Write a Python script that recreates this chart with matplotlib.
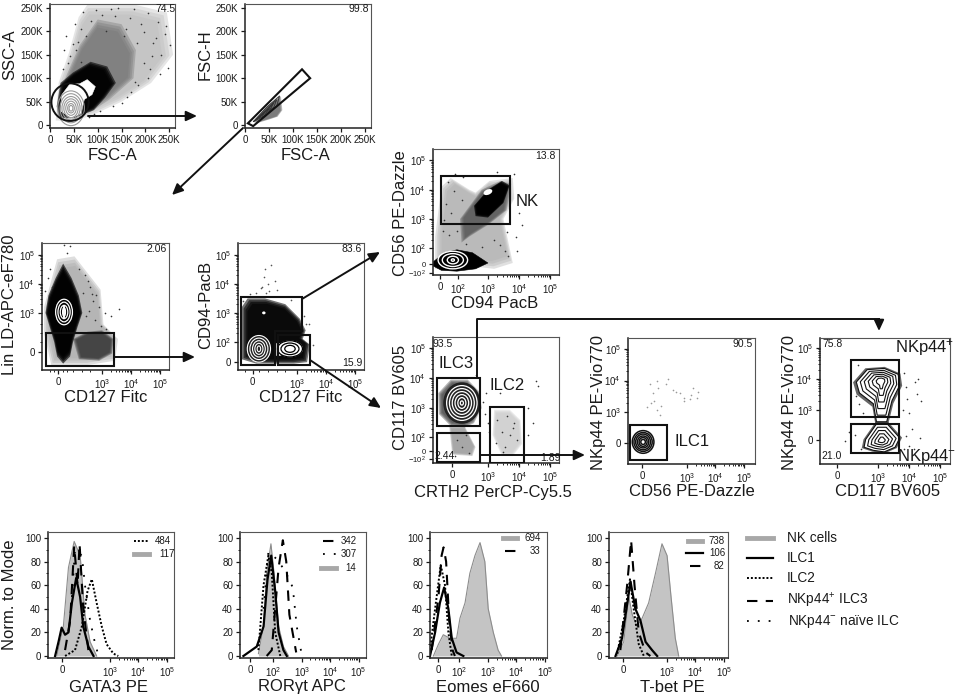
import numpy as np
import matplotlib
matplotlib.use('Agg')
import matplotlib.pyplot as plt
from matplotlib.patches import Polygon, Ellipse, Rectangle

plt.rcParams['font.family'] = ['Liberation Sans', 'DejaVu Sans']
plt.rcParams['mathtext.fontset'] = 'custom'
plt.rcParams['mathtext.rm'] = 'Liberation Sans'
plt.rcParams['mathtext.default'] = 'regular'

W, H = 955, 699
DARK = '#1a1a1a'

# --- scatter clouds, (x, y) outlines in axis units; K for the first row, decades below
fsc_sparse_x = [12, 18, 40, 60, 78, 180, 245, 258, 212, 150, 90, 50, 12]
fsc_sparse_y = [10, 90, 155, 230, 256, 256, 240, 150, 90, 50, 22, 8, 10]
fsc_mid_x = [20, 32, 62, 100, 150, 180, 175, 125, 85, 30]
fsc_mid_y = [40, 100, 170, 225, 215, 160, 100, 55, 28, 20]
fsc_dense_x = [14, 22, 48, 85, 120, 138, 115, 92, 50, 20]
fsc_dense_y = [40, 90, 112, 135, 125, 90, 58, 32, 15, 15]
fsc_white_x = [22, 25, 42, 62, 78, 95, 88, 72, 65, 45]
fsc_white_y = [30, 65, 88, 88, 97, 82, 65, 55, 25, 15]
fsc_gate = (42, 49, 78, 80)
fsc_rings = [(44, 36, w, h) for w, h in [(56, 74), (46, 62), (38, 50), (30, 40), (22, 30), (14, 20), (8, 12)]]
fsc_points_x = [30, 34, 52, 58, 70, 86, 96, 110, 118, 142, 155, 168, 176, 190, 205, 215, 226, 232, 240, 248, 252, 230, 205, 185, 170, 210,
                42, 48, 38, 66, 76, 128, 136, 160, 182, 198, 222, 244, 214, 196, 178, 162, 150, 132, 104, 92, 82, 64, 55, 28]
fsc_points_y = [160, 190, 215, 178, 240, 222, 245, 235, 200, 250, 190, 228, 248, 215, 238, 175, 220, 150, 195, 122, 170, 110, 100, 85, 70, 120,
                148, 172, 132, 205, 190, 248, 232, 205, 176, 198, 186, 212, 148, 132, 92, 60, 48, 40, 30, 24, 18, 135, 160, 120]

singlet_gate_x = [6, 119, 136, 17]
singlet_gate_y = [4, 119, 100, -2]
singlet_cloud_x = [16, 30, 55, 75, 78, 68, 50, 24]
singlet_cloud_y = [8, 22, 48, 62, 32, 18, 12, 4]
singlet_line_x = [[18, 45, 72, 66, 40, 18], [24, 48, 66, 60, 38, 24], [30, 50, 60, 54, 36, 30]]
singlet_line_y = [[8, 38, 62, 40, 20, 8], [13, 37, 54, 38, 22, 13], [18, 36, 47, 36, 24, 18]]

lin_sparse_x = [1.0, 1.45, 2.05, 2.95, 3.05, 3.55, 3.45, 2.5, 1.25, 1.0]
lin_sparse_y = [3.2, 4.85, 4.95, 3.8, 2.6, 2.1, 1.35, 1.2, 1.2, 2.3]
lin_dense_x = [1.66, 1.95, 2.2, 2.32, 2.15, 2.0, 1.9, 1.66, 1.45, 1.35, 1.2, 1.05, 1.15, 1.4]
lin_dense_y = [4.7, 4.2, 3.6, 3.0, 2.5, 2.0, 1.5, 1.25, 1.5, 2.0, 2.5, 3.0, 3.6, 4.2]
lin_blob_x = [2.0, 2.5, 3.0, 3.4, 3.35, 2.9, 2.2]
lin_blob_y = [2.1, 2.35, 2.4, 2.1, 1.6, 1.35, 1.4]
lin_gate = (1.07, 1.17, 2.34, 1.14)
lin_rings = [(1.69, 3.03, w, h) for w, h in [(0.58, 0.88), (0.42, 0.68), (0.26, 0.46), (0.1, 0.3)]]
lin_points_x = [1.7, 1.9, 2.4, 2.6, 2.8, 2.9, 3.1, 3.6, 3.3, 2.5, 2.7, 2.2, 1.8, 2.35, 2.55, 2.75, 2.95, 3.15, 2.45, 2.65, 1.12, 1.2, 1.28, 1.02]
lin_points_y = [5.35, 5.3, 4.3, 3.9, 3.6, 3.2, 3.0, 3.15, 2.9, 4.1, 3.4, 4.5, 5.05, 3.7, 3.05, 2.75, 2.55, 2.45, 2.9, 3.65, 4.2, 4.5, 3.9, 3.75]

cd94_dense_x = [1.1, 1.3, 1.9, 2.6, 3.1, 3.3, 3.2, 3.45, 3.35, 2.9, 2.3, 1.6, 1.1]
cd94_dense_y = [3.2, 3.5, 3.5, 3.3, 2.8, 2.4, 2.1, 1.9, 1.3, 1.25, 1.25, 1.25, 1.4]
cd94_hole_x = [2.28, 2.42, 2.42, 2.28]
cd94_hole_y = [1.55, 1.55, 1.95, 1.95]
cd94_left_rings = [(1.69, 1.76, w, h) for w, h in [(0.8, 0.92), (0.62, 0.74), (0.44, 0.56), (0.28, 0.38), (0.12, 0.2)]]
cd94_right_rings = [(2.76, 1.76, w, h) for w, h in [(0.86, 0.56), (0.62, 0.4), (0.36, 0.24)]]
cd94_gate_up_x = [1.07, 3.17, 3.17, 2.24, 2.24, 1.07]
cd94_gate_up_y = [3.55, 3.55, 2.38, 2.38, 1.21, 1.21]
cd94_gate_low_x = [2.34, 3.45, 3.45, 2.34]
cd94_gate_low_y = [2.24, 2.24, 1.21, 1.21]
cd94_points_x = [1.9, 2.1, 1.8, 1.95, 2.0, 1.85, 1.75, 2.05, 2.25, 1.6, 3.4, 3.55, 2.3, 1.15, 1.4, 2.8, 3.25, 3.3]
cd94_points_y = [4.5, 4.65, 3.9, 3.7, 4.0, 4.25, 3.85, 3.75, 4.1, 3.7, 2.6, 1.9, 3.8, 3.4, 3.65, 3.45, 2.9, 2.6]

cd56_sparse_x = [1.5, 1.8, 2.4, 2.6, 3.05, 3.8, 3.85, 3.5, 3.8, 3.2, 2.8, 1.3, 1.3]
cd56_sparse_y = [4.1, 4.4, 4.0, 3.9, 4.3, 4.4, 3.7, 3.0, 1.5, 1.3, 1.35, 1.3, 2.4]
cd56_mid_x = [2.1, 2.8, 3.4, 3.75, 3.6, 3.0, 2.4, 2.15]
cd56_mid_y = [3.0, 4.0, 4.3, 4.2, 3.3, 2.8, 2.4, 2.2]
cd56_dense_x = [2.55, 3.0, 3.45, 3.7, 3.5, 3.0, 2.6]
cd56_dense_y = [3.45, 4.0, 4.3, 4.15, 3.55, 3.05, 3.1]
cd56_low_x = [1.25, 1.6, 2.0, 2.5, 3.0, 2.6, 2.0, 1.5, 1.23]
cd56_low_y = [1.55, 1.85, 1.95, 1.85, 1.5, 1.3, 1.22, 1.25, 1.4]
cd56_spot = (3.0, 3.92, 0.3, 0.18)
cd56_rings = [(1.87, 1.6, w, h) for w, h in [(0.95, 0.6), (0.68, 0.44), (0.36, 0.26), (0.1, 0.08)]]
cd56_gate = (1.48, 2.83, 2.23, 1.64)
cd56_points_x = [1.65, 1.8, 2.0, 4.0, 4.1, 3.95, 1.95, 3.3, 2.2, 3.9, 1.55, 3.85, 1.7, 1.9, 2.15, 1.6, 1.75, 3.6, 3.4, 3.2, 2.8, 3.65, 3.55, 2.3]
cd56_points_y = [3.5, 3.2, 2.6, 3.2, 2.8, 1.9, 4.55, 4.6, 4.45, 2.4, 2.6, 4.55, 4.25, 3.95, 3.65, 2.95, 2.45, 2.55, 2.1, 2.3, 2.05, 1.75, 1.9, 2.15]

ilc3_mid_x = [1.4, 1.8, 2.35, 2.72, 2.8, 2.55, 2.25, 1.8, 1.42]
ilc3_mid_y = [3.5, 3.95, 3.95, 3.55, 3.0, 2.5, 2.35, 2.4, 2.8]
ilc3_low_x = [1.75, 2.25, 2.6, 2.5, 1.85]
ilc3_low_y = [2.4, 2.4, 1.7, 1.4, 1.45]
ilc2_cloud_x = [3.2, 3.7, 4.05, 4.1, 3.8, 3.45, 3.15]
ilc2_cloud_y = [2.95, 2.95, 2.6, 1.8, 1.4, 1.4, 2.1]
ilc3_rings = [(2.16, 3.17, w, h) for w, h in [(0.98, 1.16), (0.8, 0.96), (0.62, 0.76), (0.44, 0.56), (0.26, 0.36), (0.1, 0.14)]]
ilc_gate3 = (1.35, 2.4, 1.39, 1.6)
ilc_gate_low = (1.35, 1.2, 1.39, 0.97)
ilc_gate2 = (3.06, 1.17, 1.1, 1.86)
ilc_points_x = [3.4, 4.3, 4.55, 4.6, 2.85, 2.9, 3.0, 4.3, 4.45, 2.6, 3.5, 3.3, 3.6, 3.85, 3.45, 3.7, 3.95, 3.25, 3.55, 3.8, 2.0, 2.15, 2.3, 1.95, 2.4, 2.95, 3.05]
ilc_points_y = [3.5, 2.1, 3.9, 3.75, 3.2, 2.8, 2.5, 3.0, 2.5, 4.1, 1.55, 2.6, 2.75, 2.5, 2.2, 2.1, 1.95, 1.85, 1.7, 2.35, 1.95, 1.7, 2.1, 1.4, 1.5, 3.5, 2.2]

nk_ilc1_rings = [(1.46, 2.05, w, h) for w, h in [(0.76, 0.72), (0.64, 0.6), (0.52, 0.5), (0.4, 0.38), (0.28, 0.28), (0.16, 0.16)]]
nk_ilc1_gate = (1.0, 1.48, 1.3, 1.11)
nk_ilc1_points_x = [1.75, 1.8, 2.0, 2.25, 1.7, 2.35, 2.75, 3.2, 2.9, 3.15, 3.35, 3.4, 1.95, 1.6, 1.85, 2.05, 2.1, 2.9, 1.95, 2.5, 2.6, 3.1]
nk_ilc1_points_y = [3.3, 3.6, 3.75, 3.9, 3.9, 4.05, 3.6, 3.75, 3.45, 3.55, 3.45, 3.65, 3.05, 3.15, 3.35, 2.9, 3.2, 3.35, 4.0, 3.7, 3.65, 3.4]

nkp_up_x = [2.3, 2.65, 3.2, 3.65, 3.7, 3.45, 3.28, 2.95, 2.85, 2.4]
nkp_up_y = [3.9, 4.3, 4.34, 4.15, 3.8, 3.3, 2.62, 2.62, 3.2, 3.55]
nkp_low_x = [2.6, 2.95, 3.3, 3.7, 3.55, 3.2, 2.85, 2.55]
nkp_low_y = [2.05, 2.55, 2.55, 2.1, 1.8, 1.65, 1.7, 1.8]
nkp_up_levels = [1.0, 0.84, 0.68, 0.52, 0.36, 0.2]
nkp_low_levels = [1.0, 0.8, 0.6, 0.4, 0.2]
nkp_center = (3.1, 3.95)
nkp_low_center = (3.12, 2.02)
nkp_gate_up = (2.13, 2.77, 1.55, 1.84)
nkp_gate_low = (2.13, 1.61, 1.55, 0.94)
nkp_points_x = [2.05, 4.2, 4.25, 4.3, 4.1, 4.4, 2.35, 4.35, 4.15, 1.95, 3.85, 3.9, 3.95, 4.0, 3.8, 2.3, 2.4, 2.5, 2.25, 3.9, 4.0, 2.45, 3.85]
nkp_points_y = [2.3, 3.9, 3.5, 4.0, 2.4, 3.3, 4.45, 2.1, 1.75, 2.0, 4.2, 3.75, 3.35, 2.9, 3.0, 3.45, 3.2, 2.9, 2.2, 2.15, 1.85, 1.75, 1.75]

# --- histograms: x in decades, y in % of mode
gata_nk_x = [1.13, 1.36, 1.54, 1.74, 1.95, 2.12, 2.3, 2.53]
gata_nk_y = [0, 25, 75, 97, 85, 35, 12, 0]
gata_ilc1_x = [1.07, 1.19, 1.3, 1.42, 1.54, 1.66, 1.81, 1.95, 2.06, 2.24, 2.42]
gata_ilc1_y = [0, 12, 24, 18, 20, 45, 66, 50, 25, 8, 0]
gata_ilc2_x = [1.42, 1.77, 2.01, 2.21, 2.36, 2.53, 2.71, 2.88, 3.12, 3.29]
gata_ilc2_y = [0, 5, 25, 55, 65, 45, 25, 10, 2, 0]
gata_ilc3_x = [1.42, 1.6, 1.74, 1.86, 1.93, 2.06, 2.24]
gata_ilc3_y = [5, 30, 93, 60, 95, 40, 5]
gata_naive_x = [1.66, 1.77, 2.01, 2.12, 2.3, 2.48, 2.6]
gata_naive_y = [50, 90, 85, 60, 30, 10, 0]

ror_nk_x = [1.47, 1.65, 1.76, 1.91, 2.02, 2.18, 2.35, 2.53]
ror_nk_y = [2, 25, 70, 95, 70, 25, 8, 0]
ror_ilc1_x = [0.94, 1.41, 1.65, 1.79, 1.92, 2.06, 2.18, 2.35, 2.47]
ror_ilc1_y = [0, 8, 25, 65, 85, 55, 20, 5, 0]
ror_ilc2_x = [1.47, 1.65, 1.82, 1.94, 2.06, 2.24]
ror_ilc2_y = [5, 60, 85, 70, 20, 0]
ror_ilc3_x = [1.76, 1.94, 2.06, 2.18, 2.33, 2.45, 2.56, 2.71, 2.8]
ror_ilc3_y = [0, 5, 40, 75, 98, 80, 35, 15, 3]
ror_naive_x = [1.65, 1.82, 2.12, 2.41, 2.68, 2.82, 2.98]
ror_naive_y = [40, 88, 82, 72, 58, 25, 3]

eo_nk_x = [1.06, 1.24, 1.41, 1.65, 1.88, 2.0, 2.18, 2.35, 2.53, 2.71, 2.88, 3.0, 3.18, 3.35, 3.47]
eo_nk_y = [0, 10, 18, 15, 15, 32, 45, 70, 85, 96, 80, 40, 20, 5, 0]
eo_ilc1_x = [0.94, 1.12, 1.29, 1.44, 1.59, 1.71, 1.88, 2.12]
eo_ilc1_y = [0, 20, 45, 58, 40, 15, 3, 0]
eo_ilc3_x = [1.0, 1.24, 1.35, 1.42, 1.51, 1.62, 1.74, 1.82]
eo_ilc3_y = [5, 50, 85, 92, 80, 30, 5, 0]
eo_ilc2_x = [0.94, 1.12, 1.32, 1.47, 1.59, 1.71]
eo_ilc2_y = [5, 40, 77, 60, 20, 0]

tb_nk_x = [1.24, 1.47, 1.65, 1.77, 1.94, 2.12, 2.35, 2.59, 2.82, 3.0, 3.14, 3.29, 3.41]
tb_nk_y = [0, 12, 50, 35, 25, 32, 45, 70, 95, 85, 50, 15, 0]
tb_ilc1_x = [1.18, 1.41, 1.71, 1.88, 2.06, 2.24, 2.47, 2.65]
tb_ilc1_y = [0, 15, 63, 40, 30, 12, 5, 0]
tb_ilc3_x = [1.35, 1.59, 1.73, 1.85, 2.0, 2.24, 2.41]
tb_ilc3_y = [5, 60, 98, 60, 20, 3, 0]
tb_ilc2_x = [1.24, 1.47, 1.69, 1.82, 2.0, 2.18]
tb_ilc2_y = [2, 30, 65, 40, 10, 0]

legend_names = ['NK cells', 'ILC1', 'ILC2', 'NKp44$^{+}$ ILC3', 'NKp44$^{-}$ naïve ILC']

LINEAR_TICKS = [0, 50, 100, 150, 200, 250]
LINEAR_LABELS = ['0', '50K', '100K', '150K', '200K', '250K']
PCT_TICKS = [0, 20, 40, 60, 80, 100]

fig = plt.figure(figsize=(W / 100, H / 100), dpi=100)
fig.patch.set_facecolor('white')

# overlay in picture units for labels and arrows
over = fig.add_axes([0, 0, 1, 1], zorder=10)
over.set_xlim(0, W)
over.set_ylim(H, 0)
over.axis('off')


def logminor(decades):
    out = []
    for d in decades:
        out.extend(d + np.log10(np.arange(2, 10)))
    return out


def panel(box, xlim, ylim, xticks, xlabels, yticks, ylabels, xminor=(), yminor=()):
    l, r, t, b = box
    ax = fig.add_axes([l / W, 1 - b / H, (r - l) / W, (b - t) / H])
    ax.set_xlim(*xlim)
    ax.set_ylim(*ylim)
    ax.set_xticks(xticks, xlabels)
    ax.set_yticks(yticks, ylabels)
    ax.set_xticks(xminor, minor=True)
    ax.set_yticks(yminor, minor=True)
    ax.tick_params(length=3, width=0.9, labelsize=7, pad=2, colors=DARK)
    ax.tick_params(which='minor', length=1.5, width=0.6)
    for side, sp in ax.spines.items():
        sp.set_linewidth(1.1 if side in ('left', 'bottom') else 0.8)
        sp.set_color('#222222' if side in ('left', 'bottom') else '#555555')
    return ax


def cloud(ax, xs, ys, shade, alpha=0.38):
    # grey density patch with a feathered edge
    pts = np.column_stack([xs, ys])
    mid = pts.mean(axis=0)
    for k in (1.0, 0.95, 0.9, 0.85):
        ax.add_patch(Polygon(mid + k * (pts - mid), closed=True, facecolor=shade, edgecolor='none', alpha=alpha))


def solid(ax, xs, ys, color='black'):
    ax.add_patch(Polygon(np.column_stack([xs, ys]), closed=True, facecolor=color, edgecolor=color, lw=0.4))


def rings(ax, items, color='black', lw=0.8, fill=None):
    for i, (cx, cy, w, h) in enumerate(items):
        ax.add_patch(Ellipse((cx, cy), w, h, facecolor=fill if (fill and i == 0) else 'none',
                             edgecolor=color, lw=lw))


def gate_rect(ax, rect):
    x, y, w, h = rect
    ax.add_patch(Rectangle((x, y), w, h, fill=False, edgecolor='#111111', lw=1.5, zorder=6))


def gate_poly(ax, xs, ys):
    ax.add_patch(Polygon(np.column_stack([xs, ys]), closed=True, fill=False, edgecolor='#111111', lw=1.5, zorder=6))


def strays(ax, xs, ys, color='#333333'):
    ax.scatter(xs, ys, s=1.4, color=color, linewidths=0)


def lab(x, y, s, rot=0, size=12):
    over.text(x, y, s, rotation=rot, fontsize=size, ha='center', va='center', color=DARK)


def arrow(x0, y0, x1, y1):
    over.annotate('', xy=(x1, y1), xytext=(x0, y0),
                  arrowprops=dict(arrowstyle='-|>,head_width=0.3,head_length=0.65', color='#111111',
                                  lw=1.4, shrinkA=0, shrinkB=0))


def power(n):
    return '$10^{%d}$' % n


def small_low_labels(ax, count=2):
    for t in ax.get_yticklabels()[:count]:
        t.set_fontsize(5.5)


# ---- FSC / SSC
ax = panel((50, 175, 4, 128), (0, 262), (-6, 258), LINEAR_TICKS, LINEAR_LABELS, LINEAR_TICKS, LINEAR_LABELS)
cloud(ax, fsc_sparse_x, fsc_sparse_y, '#bdbdbd')
cloud(ax, fsc_mid_x, fsc_mid_y, '#777777')
cloud(ax, fsc_dense_x, fsc_dense_y, 'black', alpha=0.6)
solid(ax, fsc_white_x, fsc_white_y, 'white')
rings(ax, fsc_rings, color='#999999', lw=0.8)
ax.add_patch(Ellipse(fsc_gate[:2], fsc_gate[2], fsc_gate[3], fill=False, edgecolor='#111111', lw=1.4, zorder=6))
strays(ax, fsc_points_x, fsc_points_y)

ax = panel((245, 371, 4, 128), (0, 263), (-6, 258), LINEAR_TICKS, LINEAR_LABELS, LINEAR_TICKS, LINEAR_LABELS)
cloud(ax, singlet_cloud_x, singlet_cloud_y, '#666666')
for xs, ys in zip(singlet_line_x, singlet_line_y):
    ax.plot(xs, ys, color='#333333', lw=0.7)
gate_poly(ax, singlet_gate_x, singlet_gate_y)

# ---- Lin / CD127
ax = panel((42, 169, 243, 370), (0.93, 5.31), (1.03, 5.41), [1.48, 3, 4, 5], ['0', power(3), power(4), power(5)],
           [1.66, 3, 4, 5], ['0', power(3), power(4), power(5)], logminor([3, 4]) + [1.2, 1.35, 1.65, 1.8, 2.0, 2.3, 2.6], logminor([3, 4]) + [2.0, 2.3, 2.6])
cloud(ax, lin_sparse_x, lin_sparse_y, '#aaaaaa')
cloud(ax, lin_blob_x, lin_blob_y, '#333333')
cloud(ax, lin_dense_x, lin_dense_y, 'black', alpha=0.65)
rings(ax, lin_rings, color='white', lw=0.9)
ax.plot([1.69, 1.69], [2.85, 3.2], color='white', lw=1.4)
strays(ax, lin_points_x, lin_points_y)
gate_rect(ax, lin_gate)

ax = panel((238, 364, 243, 370), (0.97, 5.31), (1.03, 5.41), [1.48, 3, 4, 5], ['0', power(3), power(4), power(5)],
           [1.31, 2, 3, 4, 5], ['0', power(2), power(3), power(4), power(5)], logminor([3, 4]) + [1.2, 1.7, 2.0, 2.3, 2.6], logminor([2, 3, 4]))
cloud(ax, cd94_dense_x, cd94_dense_y, 'black', alpha=0.55)
solid(ax, cd94_hole_x, cd94_hole_y, 'white')
ax.add_patch(Ellipse((1.69, 1.76), 0.84, 0.94, facecolor='#222222', edgecolor='none'))
rings(ax, cd94_left_rings, color='white', lw=0.8)
ax.add_patch(Ellipse((2.76, 1.76), 0.9, 0.58, facecolor='white', edgecolor='none'))
rings(ax, cd94_right_rings, color='black', lw=0.9)
ax.add_patch(Ellipse((1.86, 3.0), 0.12, 0.1, facecolor='white', edgecolor='none'))
strays(ax, cd94_points_x, cd94_points_y, '#555555')
gate_poly(ax, cd94_gate_up_x, cd94_gate_up_y)
gate_poly(ax, cd94_gate_low_x, cd94_gate_low_y)

# ---- CD56 / CD94
ax = panel((433, 559, 149, 275), (1.23, 5.29), (1.09, 5.39), [1.45, 2.03, 3, 4, 5], ['0', power(2), power(3), power(4), power(5)],
           [1.16, 1.46, 2, 3, 4, 5], ['$-10^{2}$', '0', power(2), power(3), power(4), power(5)], logminor([3, 4]), logminor([2, 3, 4]))
small_low_labels(ax)
cloud(ax, cd56_sparse_x, cd56_sparse_y, '#b0b0b0')
cloud(ax, cd56_mid_x, cd56_mid_y, '#555555')
cloud(ax, cd56_dense_x, cd56_dense_y, 'black', alpha=0.7)
solid(ax, cd56_low_x, cd56_low_y)
ax.add_patch(Ellipse(cd56_spot[:2], cd56_spot[2], cd56_spot[3], angle=25, facecolor='white', edgecolor='none'))
rings(ax, cd56_rings, color='white', lw=1.0)
strays(ax, cd56_points_x, cd56_points_y)
gate_rect(ax, cd56_gate)

# ---- CD117 / CRTH2
ax = panel((433, 559, 337, 463), (1.23, 5.29), (1.17, 5.37), [1.84, 3, 4, 5], ['0', power(3), power(4), power(5)],
           [1.3, 1.57, 2.03, 3, 4, 5], ['$-10^{2}$', '0', power(2), power(3), power(4), power(5)], logminor([3, 4]), logminor([2, 3, 4]))
small_low_labels(ax)
cloud(ax, ilc3_mid_x, ilc3_mid_y, '#444444')
cloud(ax, ilc3_low_x, ilc3_low_y, '#999999')
cloud(ax, ilc2_cloud_x, ilc2_cloud_y, '#cccccc')
ax.add_patch(Ellipse((2.16, 3.17), 1.2, 1.38, facecolor='#222222', edgecolor='none'))
rings(ax, ilc3_rings, color='white', lw=0.9)
strays(ax, ilc_points_x, ilc_points_y)
gate_rect(ax, ilc_gate3)
gate_rect(ax, ilc_gate_low)
gate_rect(ax, ilc_gate2)

# ---- NKp44 / CD56
ax = panel((628, 755, 338, 464), (0.93, 5.39), (1.35, 5.35), [1.42, 3, 4, 5], ['0', power(3), power(4), power(5)],
           [2.02, 3, 4, 5], ['0', power(3), power(4), power(5)], logminor([3, 4]), logminor([3, 4]))
rings(ax, nk_ilc1_rings, color='#111111', lw=1.1, fill='white')
strays(ax, nk_ilc1_points_x, nk_ilc1_points_y, '#999999')
gate_rect(ax, nk_ilc1_gate)

# ---- NKp44 / CD117
ax = panel((820, 950, 338, 464), (1.13, 5.32), (1.26, 5.32), [1.68, 3, 4, 5], ['0', power(3), power(4), power(5)],
           [2.03, 3, 4, 5], ['0', power(3), power(4), power(5)], logminor([3, 4]), logminor([3, 4]))
for level_x, level_y, levels, centre in ((nkp_up_x, nkp_up_y, nkp_up_levels, nkp_center),
                                         (nkp_low_x, nkp_low_y, nkp_low_levels, nkp_low_center)):
    base = np.column_stack([level_x, level_y])
    ax.add_patch(Polygon(np.array(centre) + 1.13 * (base - np.array(centre)), closed=True,
                         facecolor='#333333', edgecolor='none', alpha=0.75))
    for i, k in enumerate(levels):
        ax.add_patch(Polygon(np.array(centre) + k * (base - np.array(centre)), closed=True,
                             facecolor='white' if i == 0 else 'none', edgecolor='#111111', lw=0.8))
strays(ax, nkp_points_x, nkp_points_y)
gate_rect(ax, nkp_gate_up)
gate_rect(ax, nkp_gate_low)

# ---- histograms
NK_GREY = '#c4c4c4'
ILC1 = dict(color='black', lw=1.6)
ILC2 = dict(color='black', lw=1.4, ls=(0, (1, 1)))
ILC3 = dict(color='black', lw=1.5, ls=(0, (5, 4)))
NAIVE = dict(color='black', lw=1.3, ls=(0, (1, 5)))


def hist_panel(box, xlim, xticks, xlabels, nk, ilc1, extra):
    ax = panel(box, xlim, (-1.7, 105), xticks, xlabels, PCT_TICKS, [str(v) for v in PCT_TICKS],
               logminor([3, 4]), [10, 30, 50, 70, 90])
    ax.tick_params(axis='x', labelsize=7)
    ax.fill_between(nk[0], nk[1], color=NK_GREY, lw=0)
    ax.plot(nk[0], nk[1], color='#8c8c8c', lw=0.8)
    for (xs, ys), style in extra:
        ax.plot(xs, ys, **style)
    ax.plot(ilc1[0], ilc1[1], **ILC1)
    return ax


hist_panel((48, 174, 532, 658), (0.82, 5.25), [1.32, 3, 4, 5], ['0', power(3), power(4), power(5)],
           (gata_nk_x, gata_nk_y), (gata_ilc1_x, gata_ilc1_y),
           [((gata_ilc2_x, gata_ilc2_y), ILC2), ((gata_ilc3_x, gata_ilc3_y), ILC3), ((gata_naive_x, gata_naive_y), NAIVE)])
hist_panel((240, 366, 532, 658), (0.82, 5.26), [1.18, 2, 3, 4, 5], ['0', power(2), power(3), power(4), power(5)],
           (ror_nk_x, ror_nk_y), (ror_ilc1_x, ror_ilc1_y),
           [((ror_ilc2_x, ror_ilc2_y), ILC2), ((ror_ilc3_x, ror_ilc3_y), ILC3), ((ror_naive_x, ror_naive_y), NAIVE)])
hist_panel((430, 547, 532, 658), (0.94, 5.08), [1.24, 1.98, 3, 4, 5], ['0', power(2), power(3), power(4), power(5)],
           (eo_nk_x, eo_nk_y), (eo_ilc1_x, eo_ilc1_y),
           [((eo_ilc2_x, eo_ilc2_y), ILC2), ((eo_ilc3_x, eo_ilc3_y), ILC3)])
hist_panel((609, 728, 532, 658), (0.95, 5.15), [1.44, 3, 4, 5], ['0', power(3), power(4), power(5)],
           (tb_nk_x, tb_nk_y), (tb_ilc1_x, tb_ilc1_y),
           [((tb_ilc2_x, tb_ilc2_y), ILC2), ((tb_ilc3_x, tb_ilc3_y), ILC3)])

# ---- axis labels
lab(10, 55, 'SSC-A', 90)
lab(112, 155, 'FSC-A')
lab(205, 55, 'FSC-H', 90)
lab(305, 155, 'FSC-A')
lab(10, 305, 'Lin LD-APC-eF780', 90)
lab(106, 397, 'CD127 Fitc')
lab(206, 305, 'CD94-PacB', 90)
lab(301, 397, 'CD127 Fitc')
lab(400, 213, 'CD56 PE-Dazzle', 90)
lab(495, 303, 'CD94 PacB')
lab(400, 397, 'CD117 BV605', 90)
lab(493, 492, 'CRTH2 PerCP-Cy5.5')
lab(598, 402, 'NKp44 PE-Vio770', 90)
lab(692, 492, 'CD56 PE-Dazzle')
lab(789, 402, 'NKp44 PE-Vio770', 90)
lab(888, 492, 'CD117 BV605')
lab(10, 595, 'Norm. to Mode', 90)
lab(108, 687, 'GATA3 PE')
lab(302, 687, 'RORγt APC')
lab(488, 687, 'Eomes eF660')
lab(672, 687, 'T-bet PE')

# ---- panel frequencies and population names
lab(165, 9, '74.5', size=7.5)
lab(359, 9, '99.8', size=7.5)
lab(157, 249, '2.06', size=7.5)
lab(352, 249, '83.6', size=7.5)
lab(352, 363, '15.9', size=7.5)
lab(545, 156, '13.8', size=7.5)
lab(443, 344, '93.5', size=7.5)
lab(445, 456, '2.44', size=7.5)
lab(550, 458, '1.89', size=7.5)
lab(743, 344, '90.5', size=7.5)
lab(833, 344, '75.8', size=7.5)
lab(832, 456, '21.0', size=7.5)
lab(527, 202, 'NK')
lab(456, 364, 'ILC3')
lab(507, 386, 'ILC2')
lab(692, 442, 'ILC1')
lab(925, 348, 'NKp44$^{+}$')
lab(927, 456, 'NKp44$^{-}$')

# ---- legend samples inside the histograms
samples = [
    (134, 149, 541, ILC2, '484', 163), (134, 149, 554, dict(color='#a8a8a8', lw=3.5), '117', 167),
    (323, 338, 541, ILC3, '342', 349), (323, 338, 554, NAIVE, '307', 349), (321, 336, 568, dict(color='#a8a8a8', lw=3.5), '14', 351),
    (503, 517, 538, dict(color='#a8a8a8', lw=3.5), '694', 533), (505, 519, 551, ILC3, '33', 535),
    (688, 702, 541, dict(color='#a8a8a8', lw=3.5), '738', 717), (686, 703, 553, ILC1, '106', 717), (690, 704, 566, ILC3, '82', 719),
]
for x0, x1, y, style, text, tx in samples:
    over.plot([x0, x1], [y, y], **style)
    lab(tx, y, text, size=7)
samples_y = [538, 558, 578, 601, 621]
samples_style = [dict(color='#a8a8a8', lw=3.5), ILC1, ILC2, ILC3, NAIVE]
samples_text = [787, 787, 787, 787, 788]
for name, y, style, tx in zip(legend_names, samples_y, samples_style, samples_text):
    over.plot([747, 773], [y, y], **style)
    over.text(tx, y, name, fontsize=9.8, va='center', ha='left', color=DARK)

# ---- arrows
over.plot([477, 477, 879], [378, 319, 319], color='#111111', lw=1.4)
arrow(88, 116, 197, 116)
arrow(243, 128, 172, 195)
arrow(114, 357, 195, 357)
arrow(302, 299, 380, 252)
arrow(310, 360, 381, 408)
arrow(879, 319, 879, 331)
arrow(480, 455, 585, 455)

fig.savefig('out.png', dpi=100)
